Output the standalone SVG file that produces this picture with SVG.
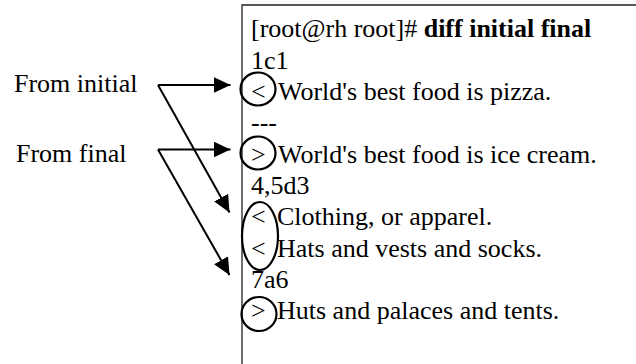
<svg xmlns="http://www.w3.org/2000/svg" width="636" height="364" viewBox="0 0 636 364">
  <defs>
    <marker id="ah" markerUnits="userSpaceOnUse" markerWidth="18" markerHeight="16" viewBox="0 0 18 16" refX="17" refY="8" orient="auto">
      <path d="M0,0 L17,8 L0,16 Z" fill="#000"/>
    </marker>
    <style>
      text { font-family: "Liberation Serif", "Times New Roman", Times, "DejaVu Serif", serif; font-size: 26px; fill: #000; }
      .b { font-weight: bold; }
      .ring { fill: none; stroke: #000; stroke-width: 2.2; }
      .conn { fill: none; stroke: #000; stroke-width: 2; marker-end: url(#ah); }
      .frame { fill: none; stroke: #222; stroke-width: 1.3; }
    </style>
  </defs>
  <rect width="636" height="364" fill="#fff"/>

  <g id="label-initial">
    <text x="14" y="92" font-family="Liberation Serif, serif">From initial</text>
  </g>
  <g id="label-final">
    <text x="16" y="161.5" font-family="Liberation Serif, serif">From final</text>
  </g>

  <g id="terminal" font-family="Liberation Serif, serif">
    <path class="frame" d="M242,364 L242,5 L636,5"/>
    <text x="251" y="37.4">[root@rh root]# <tspan class="b">diff initial final</tspan></text>
    <text x="251" y="68.7">1c1</text>
    <text x="251" y="100">&lt;</text>
    <text x="278" y="100">World's best food is pizza.</text>
    <text x="251" y="131.3">---</text>
    <text x="251" y="162.6">&gt;</text>
    <text x="278" y="162.6">World's best food is ice cream.</text>
    <text x="251" y="193.9">4,5d3</text>
    <text x="251" y="225.2">&lt;</text>
    <text x="277" y="225.2">Clothing, or apparel.</text>
    <text x="251" y="256.5">&lt;</text>
    <text x="277" y="256.5">Hats and vests and socks.</text>
    <text x="251" y="287.8">7a6</text>
    <text x="251" y="319.1">&gt;</text>
    <text x="277" y="319.1">Huts and palaces and tents.</text>
  </g>

  <g id="ring-1"><ellipse class="ring" cx="258" cy="89" rx="17.5" ry="16.5"/></g>
  <g id="ring-2"><ellipse class="ring" cx="258" cy="153" rx="17.5" ry="16.5"/></g>
  <g id="ring-3"><ellipse class="ring" cx="260" cy="236" rx="18" ry="34"/></g>
  <g id="ring-4"><ellipse class="ring" cx="259" cy="314" rx="17.5" ry="17"/></g>

  <g id="connectors">
    <line class="conn" x1="158" y1="85" x2="230.5" y2="85"/>
    <line class="conn" x1="158" y1="85" x2="229.5" y2="212.5"/>
    <line class="conn" x1="158" y1="149.5" x2="230.5" y2="149.5"/>
    <line class="conn" x1="158" y1="149.5" x2="229.5" y2="275"/>
  </g>
</svg>
